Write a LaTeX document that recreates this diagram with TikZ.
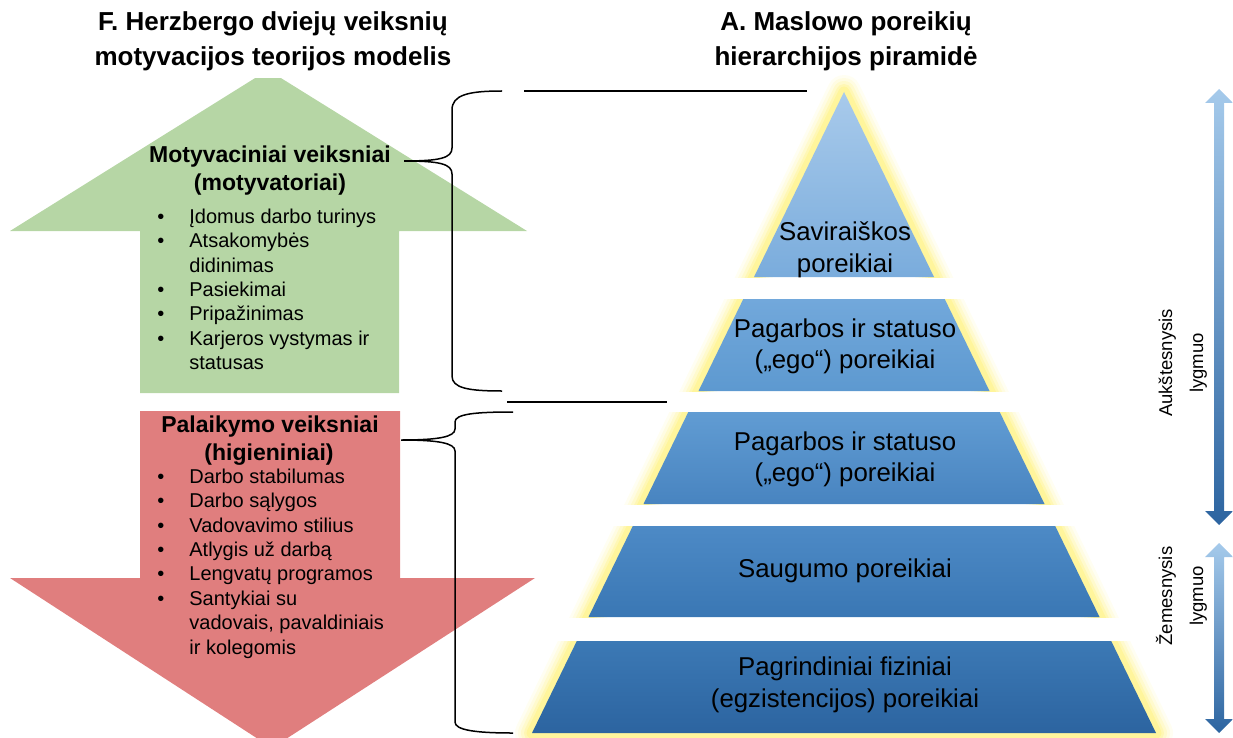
\documentclass[tikz,border=0pt]{standalone}
\usepackage{fontspec}
\setmainfont{Liberation Sans}
\definecolor{grn}{RGB}{182,214,165}
\definecolor{rda}{RGB}{224,126,126}
\definecolor{glowc}{RGB}{255,244,150}
\definecolor{p1t}{RGB}{168,202,235}\definecolor{p1b}{RGB}{122,172,220}
\definecolor{p2t}{RGB}{114,168,219}\definecolor{p2b}{RGB}{93,153,208}
\definecolor{p3t}{RGB}{97,156,211}\definecolor{p3b}{RGB}{72,132,192}
\definecolor{p4t}{RGB}{77,138,198}\definecolor{p4b}{RGB}{58,119,180}
\definecolor{p5t}{RGB}{60,121,181}\definecolor{p5b}{RGB}{44,100,160}
\definecolor{arrt}{RGB}{165,202,235}\definecolor{arrb}{RGB}{44,100,160}
\begin{document}
\begin{tikzpicture}[x=1pt,y=-1pt,
  hdr/.style={font=\fontsize{26}{32}\selectfont\bfseries, anchor=base, inner sep=0pt},
  sub/.style={font=\fontsize{23}{28}\selectfont\bfseries, anchor=base, inner sep=0pt},
  pyr/.style={font=\fontsize{25.8}{32}\selectfont, anchor=base, inner sep=0pt},
  lvl/.style={font=\fontsize{18.5}{22}\selectfont, anchor=base, inner sep=0pt, rotate=90},
  lst/.style={font=\fontsize{20}{24.4}\selectfont, anchor=base west, inner sep=0pt},
  brace/.style={line width=1.5pt, black},
  rule/.style={line width=1.5pt, black},
  glowline/.style={glowc, line join=round},
  lvlarrow/.style={top color=arrt, bottom color=arrb, draw=none}
]
\useasboundingbox (0,0) rectangle (1233,738);

% Herzberg arrows
\fill[grn] (268,70) -- (527,231) -- (399,231) -- (399,393) -- (140,393) -- (140,231) -- (10,231) -- cycle;
\fill[rda] (140,411) -- (400,411) -- (400,578) -- (535,578) -- (272,748) -- (10,578) -- (140,578) -- cycle;
% header text box background (cuts the arrow tip)
\fill[white] (85,0) rectangle (460,78);

% Maslow pyramid
\newcommand\pyrlayer[5]{%
  \begin{scope}
    \clip (0,#1) rectangle (1233,#2);
    \foreach \w/\o in {34/0.12,28/0.18,22/0.28,16/0.45,11/0.8}
      \draw[glowline, line width=\w pt, opacity=\o] (844,92) -- (1156,733) -- (532,733) -- cycle;
    \shade[top color=#3, bottom color=#4] #5;
  \end{scope}}
\pyrlayer{60}{277}{p1t}{p1b}{(844,92) -- (934,277) -- (754,277) -- cycle}
\pyrlayer{299}{391}{p2t}{p2b}{(743.3,299) -- (944.7,299) -- (989.5,391) -- (698.5,391) -- cycle}
\pyrlayer{412}{504}{p3t}{p3b}{(688.3,412) -- (999.7,412) -- (1044.5,504) -- (643.5,504) -- cycle}
\pyrlayer{526}{617}{p4t}{p4b}{(632.8,526) -- (1055.2,526) -- (1099.5,617) -- (588.5,617) -- cycle}
\pyrlayer{641}{750}{p5t}{p5b}{(576.8,641) -- (1111.2,641) -- (1156,733) -- (532,733) -- cycle}

% level arrows
\shade[lvlarrow] (1219,89) -- (1233,103) -- (1224,103) -- (1224,511) -- (1233,511) -- (1219,525) -- (1205,511) -- (1214,511) -- (1214,103) -- (1205,103) -- cycle;
\shade[lvlarrow] (1219,543) -- (1233,557) -- (1224,557) -- (1224,719) -- (1233,719) -- (1219,733) -- (1205,719) -- (1214,719) -- (1214,557) -- (1205,557) -- cycle;

% braces and rules
\coordinate (b1top) at (502,91);
\coordinate (b1tip) at (404,161);
\coordinate (b1bot) at (502,391);
\coordinate (b2top) at (513,412);
\coordinate (b2tip) at (401,440);
\coordinate (b2bot) at (513,733);
\draw[brace] (b1top) .. controls (468,91) and (452,95) .. (452,110) -- (452,148)
  .. controls (452,158) and (440,161) .. (b1tip)
  .. controls (440,161) and (452,164) .. (452,174) -- (452,376)
  .. controls (452,388) and (468,391) .. (b1bot);
\draw[brace] (b2top) .. controls (475,412) and (455,414) .. (455,422) -- (455,429)
  .. controls (455,437) and (438,440) .. (b2tip)
  .. controls (438,440) and (455,443) .. (455,451) -- (455,722)
  .. controls (455,730) and (475,733) .. (b2bot);
\coordinate (r1a) at (524,91); \coordinate (r1b) at (807,91);
\coordinate (r2a) at (507,402); \coordinate (r2b) at (667,402);
\draw[rule] (r1a) -- (r1b);
\draw[rule] (r2a) -- (r2b);

% headers
\node[hdr] (h1a) at (273,31) {F. Herzbergo dviejų veiksnių};
\node[hdr] (h1b) at (273,66) {motyvacijos teorijos modelis};
\node[hdr] (h2a) at (846,31) {A. Maslowo poreikių};
\node[hdr] (h2b) at (846,66) {hierarchijos piramidė};

% green content
\node[sub] (g1) at (270,163) {Motyvaciniai veiksniai};
\node[sub] (g2) at (270,190) {(motyvatoriai)};
\node[lst] (glist) at (157.2,223.3) {\begin{tabular}[t]{@{}p{32pt}@{}l@{}}
\textbullet & Įdomus darbo turinys\\
\textbullet & Atsakomybės\\
 & didinimas\\
\textbullet & Pasiekimai\\
\textbullet & Pripažinimas\\
\textbullet & Karjeros vystymas ir\\
 & statusas
\end{tabular}};

% red content
\node[sub] (r1) at (270,432) {Palaikymo veiksniai};
\node[sub] (r2) at (269,460) {(higieniniai)};
\node[lst] (rlist) at (157.2,483.3) {\begin{tabular}[t]{@{}p{32pt}@{}l@{}}
\textbullet & Darbo stabilumas\\
\textbullet & Darbo sąlygos\\
\textbullet & Vadovavimo stilius\\
\textbullet & Atlygis už darbą\\
\textbullet & Lengvatų programos\\
\textbullet & Santykiai su\\
 & vadovais, pavaldiniais\\
 & ir kolegomis
\end{tabular}};

% pyramid texts
\node[pyr] (t1a) at (845,240) {Saviraiškos};
\node[pyr] (t1b) at (845,272) {poreikiai};
\node[pyr] (t2a) at (845,337) {Pagarbos ir statuso};
\node[pyr] (t2b) at (845,368) {(„ego“) poreikiai};
\node[pyr] (t3a) at (845,450) {Pagarbos ir statuso};
\node[pyr] (t3b) at (845,481) {(„ego“) poreikiai};
\node[pyr] (t4) at (845,577) {Saugumo poreikiai};
\node[pyr] (t5a) at (845,675) {Pagrindiniai fiziniai};
\node[pyr] (t5b) at (845,707) {(egzistencijos) poreikiai};

% level labels
\node[lvl] (la1) at (1172,363) {Aukštesnysis};
\node[lvl] (la2) at (1203,363) {lygmuo};
\node[lvl] (lb1) at (1172,596) {Žemesnysis};
\node[lvl] (lb2) at (1203,596) {lygmuo};
\end{tikzpicture}
\end{document}
